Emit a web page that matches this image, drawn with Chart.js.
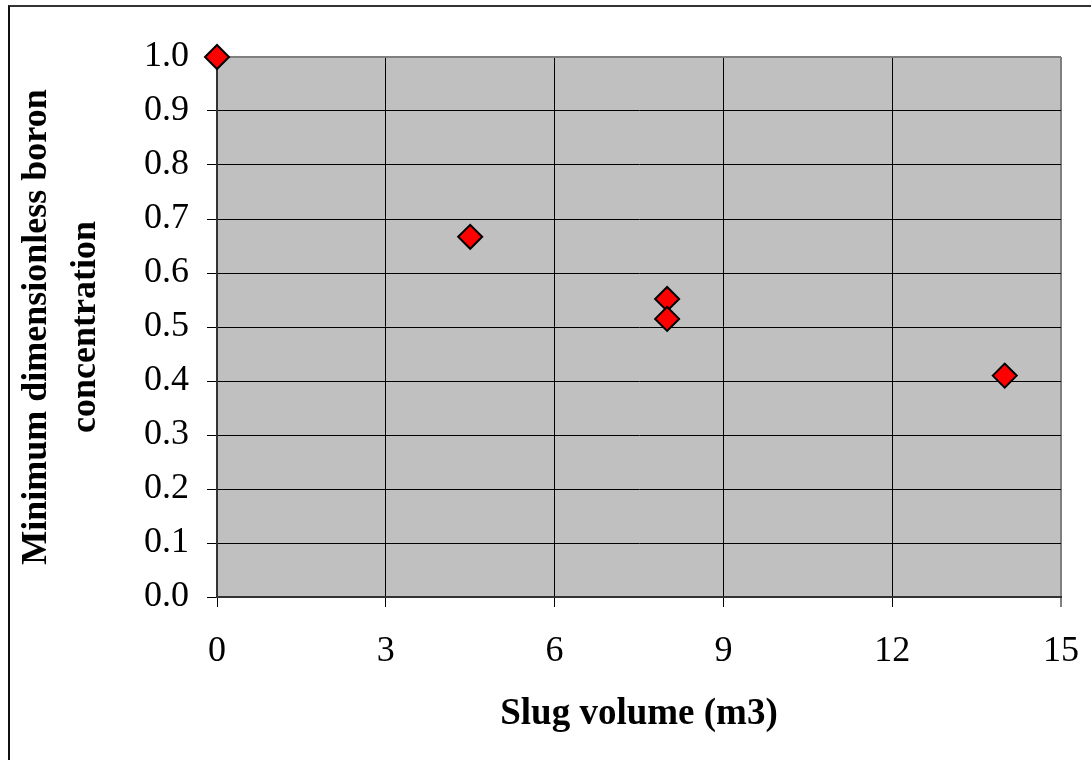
<!DOCTYPE html>
<html>
<head>
<meta charset="utf-8">
<script src="https://cdn.jsdelivr.net/npm/chart.js@4/dist/chart.umd.min.js"></script>
<style>
  html, body { margin: 0; padding: 0; background: #fff; overflow: hidden; }
  #wrap { position: relative; width: 1091px; height: 760px; }
  #frame {
    position: absolute; left: 8px; top: 5px; width: 2000px; height: 2000px;
    border-top: 2px solid #333; border-left: 2px solid #111; box-sizing: border-box;
  }
  canvas { position: absolute; left: 0; top: 0; }
</style>
</head>
<body>
<div id="wrap">
  <div id="frame"></div>
  <canvas id="chart" width="1091" height="760"></canvas>
</div>
<script>
// Slug volume (m3) against minimum dimensionless boron concentration
const slugVolume = [0, 4.5, 8, 8, 14];
const minBoron = [1.0, 0.667, 0.552, 0.515, 0.41];

const xTicks = [0, 3, 6, 9, 12, 15];
const yTicks = [0.0, 0.1, 0.2, 0.3, 0.4, 0.5, 0.6, 0.7, 0.8, 0.9, 1.0];

const xTitle = 'Slug volume (m3)';
const yTitle = ['Minimum dimensionless boron', 'concentration'];

const serif = '"Liberation Serif", "Times New Roman", serif';

// grey plot-area fill behind the grid
const plotBackground = {
  id: 'plotBackground',
  beforeDraw(chart) {
    const { ctx, chartArea: a } = chart;
    ctx.save();
    ctx.fillStyle = '#C0C0C0';
    ctx.fillRect(a.left, a.top, a.right - a.left, a.bottom - a.top);
    ctx.restore();
  }
};

const points = slugVolume.map((x, i) => ({ x: x, y: minBoron[i] }));

new Chart(document.getElementById('chart'), {
  type: 'scatter',
  data: {
    datasets: [{
      data: points,
      pointStyle: 'rectRot',
      pointRadius: 12,
      pointHoverRadius: 12,
      backgroundColor: '#FF0000',
      borderColor: '#000000',
      borderWidth: 2,
      clip: false
    }]
  },
  options: {
    responsive: false,
    animation: false,
    devicePixelRatio: 1,
    layout: { padding: { left: 0, top: 57, right: 30, bottom: 0 } },
    plugins: { legend: { display: false }, tooltip: { enabled: false } },
    scales: {
      x: {
        type: 'linear',
        min: xTicks[0],
        max: xTicks[xTicks.length - 1],
        afterBuildTicks(scale) { scale.ticks = xTicks.map(v => ({ value: v })); },
        afterFit(scale) {
          scale.height = 163;
          scale.paddingLeft = 0;
          scale.paddingRight = 0;
        },
        ticks: {
          color: '#000',
          font: { family: serif, size: 36 },
          padding: 23,
          maxRotation: 0,
          callback: v => String(v)
        },
        grid: {
          color: c => (c.tick && c.tick.value === 15) ? '#808080' : '#000000',
          lineWidth: c => (c.tick && c.tick.value === 15) ? 2 : 1,
          tickColor: '#000000',
          tickLength: 10,
          tickWidth: 1
        },
        border: { color: '#333333', width: 2 },
        title: {
          display: true,
          text: xTitle,
          color: '#000',
          font: { family: serif, size: 37, weight: 'bold' },
          padding: { top: 0, bottom: 23 }
        }
      },
      y: {
        type: 'linear',
        min: yTicks[0],
        max: yTicks[yTicks.length - 1],
        afterBuildTicks(scale) { scale.ticks = yTicks.map(v => ({ value: v })); },
        afterFit(scale) {
          scale.width = 217;
          scale.paddingTop = 0;
          scale.paddingBottom = 0;
        },
        ticks: {
          color: '#000',
          font: { family: serif, size: 36 },
          padding: 18,
          callback: v => Number(v).toFixed(1)
        },
        grid: {
          color: c => (c.tick && Math.abs(c.tick.value - 1) < 1e-9) ? '#808080' : '#000000',
          lineWidth: c => (c.tick && Math.abs(c.tick.value - 1) < 1e-9) ? 2 : 1,
          tickColor: '#000000',
          tickLength: 10,
          tickWidth: 1
        },
        border: { color: '#333333', width: 2 },
        title: {
          display: true,
          text: yTitle,
          color: '#000',
          font: { family: serif, size: 36, weight: 'bold', lineHeight: 1.36 },
          padding: { top: 12, bottom: 0 }
        }
      }
    }
  },
  plugins: [plotBackground]
});
</script>
</body>
</html>
